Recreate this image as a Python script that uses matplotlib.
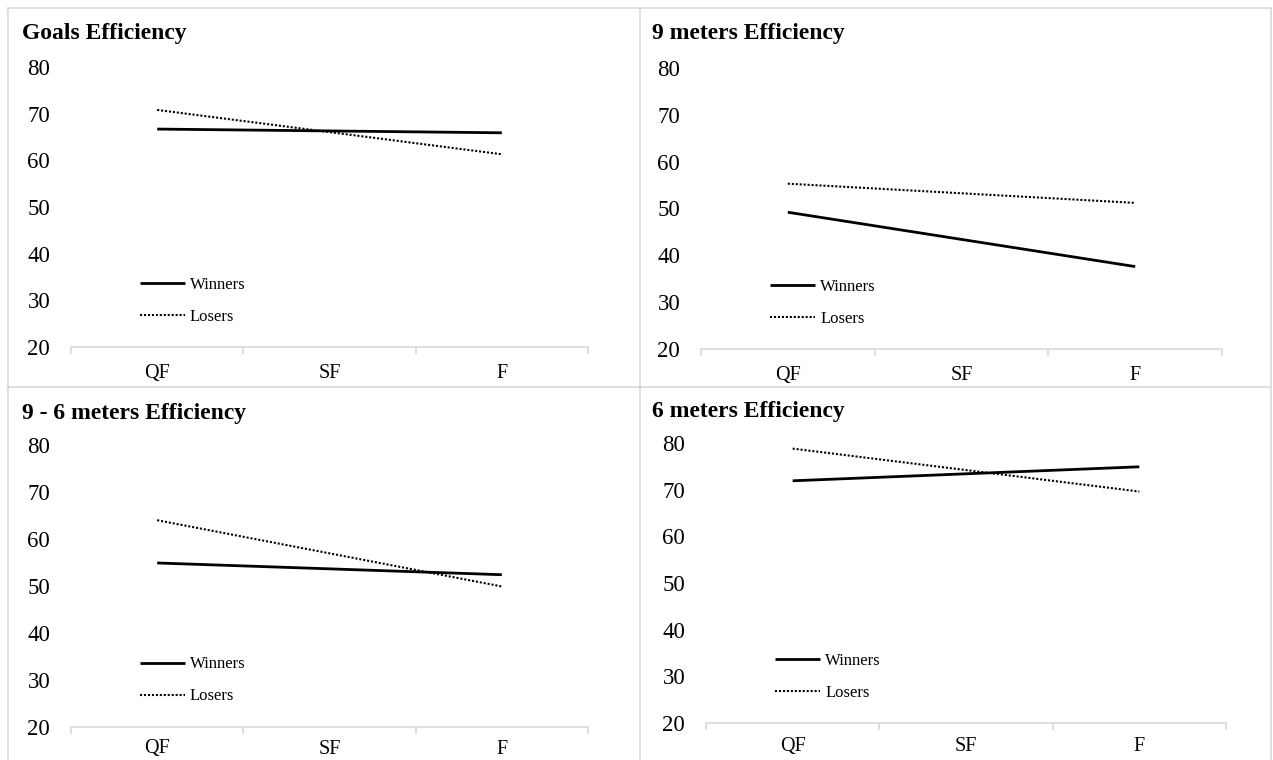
import matplotlib.pyplot as plt
from matplotlib.lines import Line2D

plt.rcParams['font.family'] = ['Liberation Serif', 'DejaVu Serif']

# stages on the x axis, values measured at QF and F
stages = ['QF', 'SF', 'F']
measured = ['QF', 'F']

titles = ['Goals Efficiency', '9 meters Efficiency',
          '9 - 6 meters Efficiency', '6 meters Efficiency']
winners = [[66.7, 65.9], [49.2, 37.6], [54.9, 52.4], [71.9, 74.9]]
losers = [[70.8, 61.3], [55.3, 51.2], [64.0, 49.9], [78.8, 69.6]]
yticks = [20, 30, 40, 50, 60, 70, 80]

W, H = 1273, 760
fig = plt.figure(figsize=(W / 100, H / 100), dpi=100)

# axes boxes in pixels: left, right, top (y=80), bottom (y=20)
boxes = [(71, 588, 67, 347), (701, 1222, 68, 349),
         (71, 588, 445, 727), (706, 1226, 443, 723)]
title_pos = [(22, 34), (652, 34), (22, 413), (652, 412)]
label_pad = [12, 12, 9, 10]
grid_col = '#d9d9d9'

for i, (l, r, t, b) in enumerate(boxes):
    ax = fig.add_axes([l / W, 1 - b / H, (r - l) / W, (b - t) / H])
    x = [stages.index(s) for s in measured]
    ax.plot(x, winners[i], color='black', lw=2.0, solid_capstyle='butt', label='Winners')
    ax.plot(x, losers[i], color='black', lw=1.5, linestyle=(0, (1, 0.9)), label='Losers')
    ax.set_xlim(-0.5, len(stages) - 0.5)
    ax.set_ylim(20, 80)
    ax.set_yticks(yticks)
    ax.set_xticks(range(len(stages)))
    ax.set_xticklabels(stages)
    ax.set_xticks([k - 0.5 for k in range(len(stages) + 1)], minor=True)
    for s in ['top', 'right', 'left']:
        ax.spines[s].set_visible(False)
    ax.spines['bottom'].set_color(grid_col)
    ax.spines['bottom'].set_linewidth(1.2)
    ax.tick_params(axis='y', length=0, pad=15, labelsize=16.5)
    ax.tick_params(axis='x', which='major', length=0, pad=label_pad[i], labelsize=14.5)
    ax.tick_params(axis='x', which='minor', length=5, width=1.2, color=grid_col)
    ax.patch.set_alpha(0)
    ax.legend(loc='upper left', bbox_to_anchor=(0.133, 0.25), frameon=False,
              fontsize=12, handlelength=2.7, handletextpad=0.3,
              labelspacing=0.95, borderpad=0, borderaxespad=0)
    tx, ty = title_pos[i]
    fig.text(tx / W, 1 - ty / H, titles[i], fontsize=17, fontweight='bold',
             ha='left', va='center')

# panel borders
for xs, ys in [((8, 8), (8, H)), ((8, 1271), (8, 8)), ((1271, 1271), (8, H)),
               ((640, 640), (8, H)), ((8, 1271), (387, 387))]:
    fig.add_artist(Line2D([v / W for v in xs], [1 - v / H for v in ys],
                          color=grid_col, lw=1.2))

fig.savefig('out.png', dpi=100)
